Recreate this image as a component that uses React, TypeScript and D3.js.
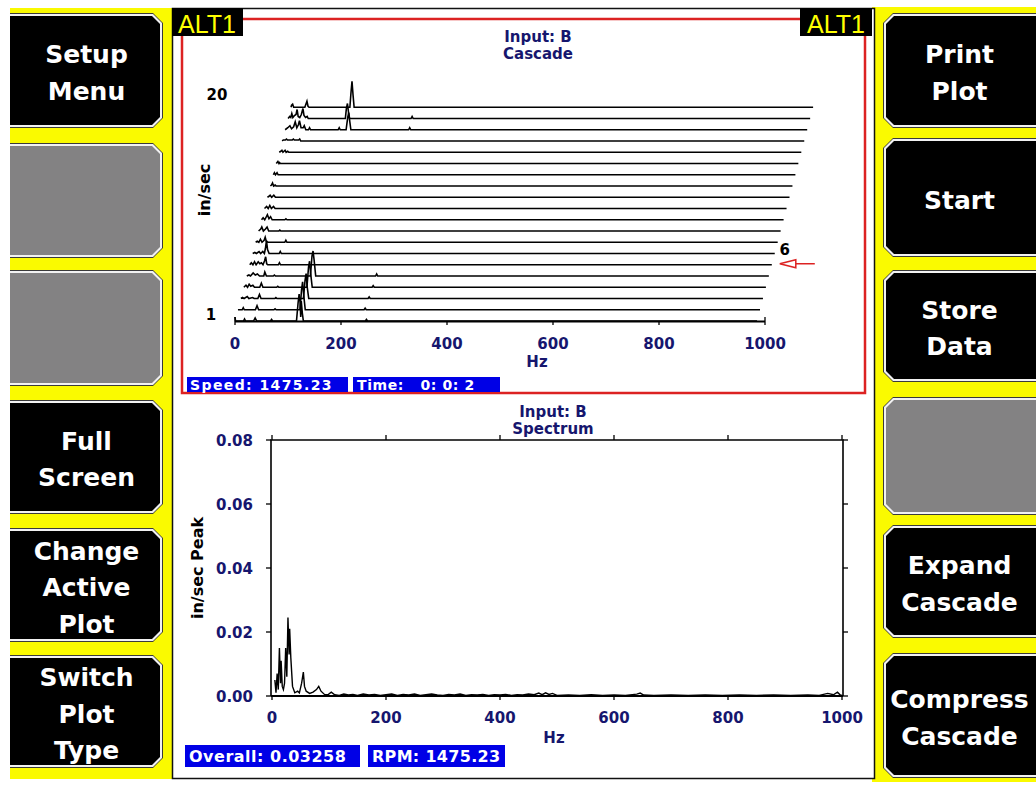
import React from "react";
import * as d3 from "d3";

type Pt = [number, number];

// ---------- DATA ----------
const cascadeXTicks = [0, 200, 400, 600, 800, 1000];
const spectrumXTicks = [0, 200, 400, 600, 800, 1000];
const spectrumYTicks = [0, 0.02, 0.04, 0.06, 0.08];

// cascade traces: [Hz, in/sec], trace 1 = oldest (bottom)
const trace01: Pt[] = [[0,0.004],[1,0],[16,0],[18,0.002],[20,0],[35,0],[38,0.003],[41,0],[67,0],[69,0.0015],[71,0],[116,0],[119,0.018],[121,0.027],[123,0.018],[124,0.004],[125,0.02],[127,0.008],[129,0],[246,0],[248,0.0015],[250,0],[985,0]];
const trace02: Pt[] = [[0,0],[8,0],[10,0.002],[12,0],[33,0],[36,0.004],[39,0],[68,0],[70,0.001],[72,0],[117,0],[120,0.02],[122,0.028],[124,0.015],[127,0],[238,0],[240,0.0015],[242,0],[985,0]];
const trace03: Pt[] = [[0,0],[3,0.001],[6,0],[12,0.002],[15,0],[22,0.001],[25,0],[32,0],[35,0.004],[38,0],[64,0],[66,0.001],[68,0],[118,0],[121,0.018],[123,0.025],[125,0.012],[128,0],[240,0],[242,0.0015],[244,0],[985,0]];
const trace04: Pt[] = [[0,0],[4,0.002],[7,0],[10,0.003],[13,0.001],[17,0.002],[20,0],[30,0],[33,0.004],[36,0],[62,0],[64,0.001],[66,0],[119,0],[122,0.02],[124,0.026],[126,0.014],[129,0],[242,0],[244,0.0015],[246,0],[985,0]];
const trace05: Pt[] = [[0,0],[4,0.001],[7,0],[12,0.003],[16,0.001],[20,0.002],[24,0],[32,0],[34,0.004],[37,0],[50,0],[52,0.001],[54,0],[120,0],[123,0.02],[125,0.025],[127,0.016],[130,0],[243,0],[245,0.002],[247,0],[985,0]];
const trace06: Pt[] = [[0,0],[3,0.002],[6,0],[9,0.003],[12,0],[16,0.003],[19,0.001],[22,0.002],[25,0],[28,0.004],[30,0.008],[32,0.001],[34,0],[54,0],[56,0.002],[58,0],[985,0]];
const trace07: Pt[] = [[0,0],[4,0.001],[7,0],[12,0.002],[15,0],[19,0.002],[22,0],[24,0.005],[26,0.013],[28,0.004],[31,0],[50,0],[52,0.002],[54,0],[985,0]];
const trace08: Pt[] = [[0,0],[3,0.001],[6,0],[9,0.003],[12,0],[16,0.002],[18,0.005],[20,0.001],[23,0],[55,0],[57,0.002],[59,0],[985,0]];
const trace09: Pt[] = [[0,0],[4,0.002],[6,0.004],[9,0],[13,0.002],[16,0.004],[19,0],[38,0],[40,0.001],[42,0],[985,0]];
const trace10: Pt[] = [[0,0],[3,0.002],[6,0],[9,0.003],[11,0.005],[14,0.001],[17,0.003],[20,0],[44,0],[46,0.001],[48,0],[985,0]];
const trace11: Pt[] = [[0,0],[2,0.001],[4,0.002],[7,0],[10,0.003],[13,0],[17,0.002],[20,0],[985,0]];
const trace12: Pt[] = [[0,0],[3,0.001],[5,0.002],[8,0],[12,0.002],[15,0],[985,0]];
const trace13: Pt[] = [[0,0],[2,0.001],[4,0.003],[6,0],[9,0.001],[11,0],[985,0]];
const trace14: Pt[] = [[0,0],[2,0.002],[4,0],[7,0.002],[9,0],[985,0]];
const trace15: Pt[] = [[0,0],[3,0.002],[5,0],[6,0.001],[8,0],[985,0]];
const trace16: Pt[] = [[0,0],[3,0.001],[5,0.002],[7,0],[11,0.002],[13,0],[16,0.001],[18,0],[985,0]];
const trace17: Pt[] = [[0,0],[2,0.001],[6,0.001],[8,0.002],[10,0.001],[19,0.001],[21,0.002],[23,0.001],[31,0.001],[33,0.002],[35,0],[985,0]];
const trace18: Pt[] = [[0,0],[5,0.002],[9,0.004],[12,0.001],[16,0.003],[19,0.008],[22,0.002],[25,0.005],[27,0.009],[30,0.002],[34,0.002],[36,0.004],[39,0],[44,0],[46,0.002],[48,0],[100,0],[102,0.002],[104,0],[115,0],[118,0.012],[120,0.017],[122,0.008],[124,0],[233,0],[235,0.002],[237,0],[985,0]];
const trace19: Pt[] = [[0,0],[3,0.002],[5,0.001],[7,0.005],[9,0.001],[12,0.003],[15,0.004],[17,0.009],[19,0.002],[22,0.001],[25,0.004],[28,0.01],[30,0.003],[33,0.001],[36,0.002],[38,0],[108,0],[110,0.01],[112,0.015],[114,0.006],[116,0],[232,0],[234,0.002],[236,0],[985,0]];
const trace20: Pt[] = [[0,0],[1,0.002],[3,0.003],[5,0],[26,0],[28,0.003],[30,0.006],[32,0.001],[34,0],[111,0],[113,0.014],[115,0.026],[117,0.012],[119,0],[985,0]];
const cascadeTraces: Pt[][] = [trace01,trace02,trace03,trace04,trace05,trace06,trace07,trace08,trace09,trace10,trace11,trace12,trace13,trace14,trace15,trace16,trace17,trace18,trace19,trace20];

// spectrum [Hz, in/sec Peak]
const spectrumPoints: Pt[] = [[5,0.005],[7,0.001],[9,0.007],[11,0.002],[13,0.015],[15,0.004],[16,0.011],[18,0.003],[20,0.002],[22,0.004],[24,0.015],[26,0.006],[28,0.0245],[30,0.013],[31,0.021],[33,0.012],[36,0.003],[40,0.001],[45,0.0015],[48,0.001],[52,0.004],[55,0.0075],[57,0.003],[60,0.0015],[66,0.0008],[72,0.0012],[78,0.002],[82,0.003],[86,0.0015],[92,0.0005],[98,0.0004],[104,0.0012],[110,0.0004],[118,0.0002],[126,0.0006],[134,0.0003],[142,0.0005],[150,0.0002],[160,0.0006],[170,0.0003],[180,0.0005],[190,0.0002],[200,0.0004],[210,0.0006],[220,0.0002],[230,0.0005],[240,0.0003],[250,0.0006],[260,0.0002],[270,0.0004],[280,0.0006],[290,0.0003],[300,0.0002],[310,0.0005],[320,0.0003],[330,0.0006],[340,0.0002],[350,0.0004],[360,0.0003],[370,0.0005],[380,0.0002],[390,0.0004],[400,0.0003],[410,0.0005],[420,0.0002],[430,0.0004],[440,0.0003],[450,0.0006],[460,0.0004],[468,0.0009],[474,0.0004],[480,0.001],[486,0.0005],[492,0.0008],[500,0.0002],[520,0.0003],[540,0.0002],[560,0.0004],[580,0.0002],[600,0.0003],[620,0.0002],[640,0.0006],[646,0.0009],[652,0.0003],[670,0.0002],[700,0.0003],[730,0.0002],[760,0.0003],[790,0.0002],[820,0.0003],[850,0.0002],[880,0.0003],[910,0.0002],[940,0.0003],[960,0.0002],[975,0.0008],[985,0.0004],[992,0.0012],[997,0.0003],[1000,0.0002]];

const leftLabels = [["Setup","Menu"],[],[],["Full","Screen"],["Change","Active","Plot"],["Switch","Plot","Type"]];
const rightLabels = [["Print","Plot"],["Start"],["Store","Data"],[],["Expand","Cascade"],["Compress","Cascade"]];

const cascadeTitle = ["Input: B", "Cascade"];
const spectrumTitle = ["Input: B", "Spectrum"];
const cascadeInfo = ["Speed: 1475.23", "Time:   0: 0: 2"];
const spectrumInfo = ["Overall: 0.03258", "RPM: 1475.23"];

// ---------- LAYOUT ----------
const W = 1036, H = 787;
const FONT = "'DejaVu Sans', Verdana, sans-serif";
const NAVY = "#16166e";
const YELLOW = "#fafa00";
const BLUE = "#0000e6";
const RED = "#dc2222";

const leftSpans = [[13,128],[143,258],[270,386],[400,514],[528,642],[655,768]];
const rightSpans = [[13,128],[138,257],[270,382],[397,515],[525,638],[653,778]];

function chamfer(x0: number, y0: number, x1: number, y1: number, c: number, side: "left" | "right") {
  if (side === "right") {
    return `M${x0},${y0}L${x1 - c},${y0}L${x1},${y0 + c}L${x1},${y1 - c}L${x1 - c},${y1}L${x0},${y1}Z`;
  }
  return `M${x0 + c},${y0}L${x1},${y0}L${x1},${y1}L${x0 + c},${y1}L${x0},${y1 - c}L${x0},${y0 + c}Z`;
}

function Button({ x0, x1, y0, y1, labels, side }: { x0: number; x1: number; y0: number; y1: number; labels: string[]; side: "left" | "right" }) {
  const gray = labels.length === 0;
  const cxm = side === "right" ? 86.5 : 959.5;
  const cy = (y0 + y1) / 2 + 2;
  const n = labels.length;
  return (
    <g>
      <path d={chamfer(x0, y0, x1, y1, 10, side)} fill="#3a3a3a" />
      <path d={side === "right" ? chamfer(x0, y0 + 1, x1 - 1, y1 - 1, 9, side) : chamfer(x0 + 1, y0 + 1, x1, y1 - 1, 9, side)} fill="#f2f2f2" />
      <path d={side === "right" ? chamfer(x0, y0 + 3, x1 - 3, y1 - 3, 8, side) : chamfer(x0 + 3, y0 + 3, x1, y1 - 3, 8, side)} fill={gray ? "#838283" : "#000"} />
      {labels.map((t, k) => (
        <text key={k} x={cxm} y={cy + 9 + (k - (n - 1) / 2) * 36.5} textAnchor="middle" fill="#fff" fontFamily={FONT} fontWeight="bold" fontSize={25}>{t}</text>
      ))}
    </g>
  );
}

export default function App() {
  // cascade scales
  const cx = d3.scaleLinear().domain([0, 1000]).range([235, 765]);
  const camp = d3.scaleLinear().domain([0, 0.03]).range([0, 30]);
  const baseY = 321, stepY = 11.25, stepX = 2.95;

  // spectrum scales
  const sx = d3.scaleLinear().domain([0, 1000]).range([272, 842]);
  const sy = d3.scaleLinear().domain([0, 0.08]).range([696, 440]);
  const specLine = d3.line<Pt>().x(d => sx(d[0])).y(d => sy(d[1]));

  const traceLine = (i: number) =>
    d3.line<Pt>().x(d => cx(d[0]) + i * stepX).y(d => baseY - i * stepY - camp(d[1]));

  const t6y = baseY - 5 * stepY;
  const t6end = cx(985) + 5 * stepX;

  return (
    <svg width={W} height={H} style={{ position: "absolute", left: 0, top: 0, background: "#fff" }}>
      <rect x={0} y={0} width={W} height={H} fill="#fff" />
      {/* yellow frames */}
      <rect x={10} y={8} width={165} height={771} fill={YELLOW} />
      <rect x={872} y={7} width={170} height={775} fill={YELLOW} />
      {/* buttons */}
      {leftLabels.map((l, i) => (
        <Button key={"l" + i} x0={-10} x1={163} y0={leftSpans[i][0]} y1={leftSpans[i][1]} labels={l} side="right" />
      ))}
      {rightLabels.map((l, i) => (
        <Button key={"r" + i} x0={883} x1={1050} y0={rightSpans[i][0]} y1={rightSpans[i][1]} labels={l} side="left" />
      ))}
      <rect x={0} y={0} width={10} height={H} fill="#fff" />
      {/* main panel */}
      <rect x={172.5} y={8.5} width={702} height={770} fill="#fff" stroke="#111" strokeWidth={1.5} />

      {/* active plot red border */}
      <rect x={182} y={19} width={683} height={374} fill="none" stroke={RED} strokeWidth={2.5} />
      <rect x={172} y={8} width={71} height={28} fill="#000" />
      <text x={207} y={33} textAnchor="middle" fill="#ffff00" fontFamily="'Liberation Sans', Arial, sans-serif" fontSize={25}>ALT1</text>
      <rect x={800} y={8} width={72} height={28} fill="#000" />
      <text x={836} y={33} textAnchor="middle" fill="#ffff00" fontFamily="'Liberation Sans', Arial, sans-serif" fontSize={25}>ALT1</text>

      {/* cascade title */}
      <text x={538} y={42} textAnchor="middle" fill={NAVY} fontFamily={FONT} fontWeight="bold" fontSize={15}>{cascadeTitle[0]}</text>
      <text x={538} y={59} textAnchor="middle" fill={NAVY} fontFamily={FONT} fontWeight="bold" fontSize={15}>{cascadeTitle[1]}</text>

      {/* cascade traces, back to front */}
      {cascadeTraces.map((tr, i) => (
        <path key={i} d={traceLine(i)(tr) || ""} fill="none" stroke="#000" strokeWidth={1.6} />
      ))}
      {/* cascade axis */}
      <line x1={cx(0)} x2={cx(1000)} y1={baseY + 0.5} y2={baseY + 0.5} stroke="#000" strokeWidth={2.2} />
      {cascadeXTicks.map(t => (
        <g key={t}>
          <line x1={cx(t)} x2={cx(t)} y1={t === 1000 || t === 0 ? baseY - 4 : baseY} y2={baseY + 4} stroke="#000" strokeWidth={1.3} />
          <text x={cx(t)} y={349} textAnchor="middle" fill={NAVY} fontFamily={FONT} fontWeight="bold" fontSize={15}>{t}</text>
        </g>
      ))}
      <text x={537} y={367} textAnchor="middle" fill={NAVY} fontFamily={FONT} fontWeight="bold" fontSize={15}>Hz</text>
      <text x={cx(0) - 24} y={baseY - 1} textAnchor="middle" fill="#000" fontFamily={FONT} fontWeight="bold" fontSize={15}>1</text>
      <text x={cx(0) - 18} y={baseY - 19 * stepY - 7} textAnchor="middle" fill="#000" fontFamily={FONT} fontWeight="bold" fontSize={15}>20</text>
      <text transform="translate(210,190) rotate(-90)" textAnchor="middle" fill="#000" fontFamily={FONT} fontWeight="bold" fontSize={16}>in/sec</text>
      <text x={t6end + 13} y={t6y - 10} textAnchor="middle" fill="#000" fontFamily={FONT} fontWeight="bold" fontSize={15}>6</text>
      {/* red arrow */}
      <line x1={t6end + 24} x2={t6end + 43} y1={t6y - 1} y2={t6y - 1} stroke={RED} strokeWidth={1.5} />
      <path d={`M${t6end + 8},${t6y - 1}L${t6end + 24},${t6y - 5}L${t6end + 24},${t6y + 3}Z`} fill="#fff" stroke={RED} strokeWidth={1.5} />

      {/* cascade info boxes */}
      <rect x={187} y={377} width={161} height={15} fill={BLUE} />
      <rect x={353} y={377} width={147} height={15} fill={BLUE} />
      <text x={190} y={390} fill="#fff" fontFamily={FONT} fontWeight="bold" fontSize={14} letterSpacing={1.4} style={{ whiteSpace: "pre" }}>{cascadeInfo[0]}</text>
      <text x={357} y={390} fill="#fff" fontFamily={FONT} fontWeight="bold" fontSize={14} letterSpacing={0.6} style={{ whiteSpace: "pre" }}>{cascadeInfo[1]}</text>

      {/* spectrum */}
      <text x={553} y={417} textAnchor="middle" fill={NAVY} fontFamily={FONT} fontWeight="bold" fontSize={15}>{spectrumTitle[0]}</text>
      <text x={553} y={434} textAnchor="middle" fill={NAVY} fontFamily={FONT} fontWeight="bold" fontSize={15}>{spectrumTitle[1]}</text>
      <path d={`M${sx(0) - 1},${sy(0)}L${sx(0) - 1},${sy(0.08)}L${sx(1000) + 1},${sy(0.08)}L${sx(1000) + 1},${sy(0)}`} fill="none" stroke="#000" strokeWidth={1.6} />
      <line x1={sx(0) - 1} x2={sx(1000) + 1} y1={sy(0)} y2={sy(0)} stroke="#000" strokeWidth={2} />
      {spectrumYTicks.map(t => (
        <g key={t}>
          <line x1={sx(0) - 6} x2={sx(0) - 1} y1={sy(t)} y2={sy(t)} stroke="#000" strokeWidth={1.3} />
          <line x1={sx(1000) + 1} x2={sx(1000) + 6} y1={sy(t)} y2={sy(t)} stroke="#000" strokeWidth={1.3} />
          <text x={253} y={sy(t) + 5.5} textAnchor="end" fill={NAVY} fontFamily={FONT} fontWeight="bold" fontSize={15}>{t.toFixed(2)}</text>
        </g>
      ))}
      {spectrumXTicks.map(t => (
        <g key={t}>
          <line x1={sx(t)} x2={sx(t)} y1={sy(0.08) - 5} y2={sy(0.08)} stroke="#000" strokeWidth={1.3} />
          <line x1={sx(t)} x2={sx(t)} y1={sy(0)} y2={sy(0) + 4} stroke="#000" strokeWidth={1.3} />
          <text x={sx(t)} y={723} textAnchor="middle" fill={NAVY} fontFamily={FONT} fontWeight="bold" fontSize={15}>{t}</text>
        </g>
      ))}
      <path d={specLine(spectrumPoints) || ""} fill="none" stroke="#000" strokeWidth={1.4} />
      <text x={554} y={743} textAnchor="middle" fill={NAVY} fontFamily={FONT} fontWeight="bold" fontSize={15}>Hz</text>
      <text transform="translate(203,568) rotate(-90)" textAnchor="middle" fill="#000" fontFamily={FONT} fontWeight="bold" fontSize={16}>in/sec Peak</text>

      <rect x={185} y={745} width={175} height={22} fill={BLUE} />
      <rect x={368} y={745} width={137} height={22} fill={BLUE} />
      <text x={189} y={762} fill="#fff" fontFamily={FONT} fontWeight="bold" fontSize={16} letterSpacing={0.5}>{spectrumInfo[0]}</text>
      <text x={372} y={762} fill="#fff" fontFamily={FONT} fontWeight="bold" fontSize={16} letterSpacing={0.3}>{spectrumInfo[1]}</text>
    </svg>
  );
}
